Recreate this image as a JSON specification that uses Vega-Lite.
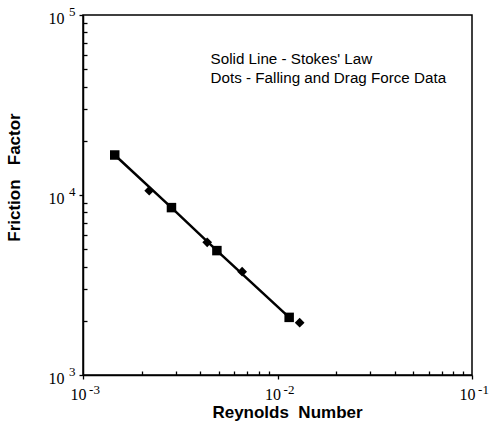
{
  "$schema": "https://vega.github.io/schema/vega-lite/v6.json",
  "width": 389,
  "height": 360,
  "autosize": {"type": "none"},
  "padding": {"left": 83, "top": 15, "right": 18, "bottom": 53},
  "background": "white",
  "config": {
    "view": {"stroke": "black", "strokeWidth": 1.5},
    "axis": {
      "domainColor": "black",
      "domainWidth": 1.5,
      "tickColor": "black",
      "tickWidth": 1.3,
      "grid": false,
      "labelFont": "Liberation Serif",
      "labelFontSize": 16,
      "labelColor": "black",
      "titleFont": "Liberation Sans",
      "titleFontWeight": "bold",
      "titleFontSize": 17,
      "titleColor": "black"
    }
  },
  "datasets": {
    "pts": [
      {"re": 0.001456, "f": 16680, "kind": "square"},
      {"re": 0.00219, "f": 10570, "kind": "diamond"},
      {"re": 0.00285, "f": 8510, "kind": "square"},
      {"re": 0.00435, "f": 5460, "kind": "diamond"},
      {"re": 0.00488, "f": 4910, "kind": "square"},
      {"re": 0.00658, "f": 3750, "kind": "diamond"},
      {"re": 0.01148, "f": 2090, "kind": "square"},
      {"re": 0.0130, "f": 1953, "kind": "diamond"}
    ],
    "notes": [
      {"re": 0.00453, "f": 53400, "txt": "Solid Line - Stokes' Law"},
      {"re": 0.00453, "f": 41900, "txt": "Dots - Falling and Drag Force Data"}
    ]
  },
  "resolve": {"axis": {"x": "independent", "y": "independent"}},
  "layer": [
    {
      "data": {"name": "pts"},
      "transform": [{"filter": "datum.kind == 'square'"}],
      "mark": {"type": "line", "color": "black", "strokeWidth": 2.5},
      "encoding": {
        "x": {
          "field": "re", "type": "quantitative",
          "scale": {"type": "log", "domain": [0.001, 0.1], "nice": false},
          "axis": {
            "orient": "bottom",
            "title": "Reynolds\u00a0\u00a0Number",
            "titleX": 204,
            "titleAlign": "center",
            "values": [0.001,0.002,0.003,0.004,0.005,0.006,0.007,0.008,0.009,0.01,0.02,0.03,0.04,0.05,0.06,0.07,0.08,0.09,0.1],
            "labelExpr": "abs(log(datum.value)/LN10 - round(log(datum.value)/LN10)) < 1e-6 ? '10' : ''",
            "tickSize": {"condition": {"test": "abs(log(datum.value)/LN10 - round(log(datum.value)/LN10)) < 1e-6", "value": 4}, "value": -4},
            "labelPadding": 7,
            "labelOffset": -5,
            "labelFlush": false,
            "titlePadding": 2
          }
        },
        "y": {
          "field": "f", "type": "quantitative",
          "scale": {"type": "log", "domain": [1000, 100000], "nice": false},
          "axis": {
            "orient": "left",
            "title": "Friction\u00a0\u00a0\u00a0Factor",
            "values": [1000,2000,3000,4000,5000,6000,7000,8000,9000,10000,20000,30000,40000,50000,60000,70000,80000,90000,100000],
            "labelExpr": "abs(log(datum.value)/LN10 - round(log(datum.value)/LN10)) < 1e-6 ? '10' : ''",
            "tickSize": {"condition": {"test": "abs(log(datum.value)/LN10 - round(log(datum.value)/LN10)) < 1e-6", "value": 4}, "value": -4},
            "labelPadding": 15,
            "labelOffset": 3,
            "labelBaseline": "middle",
            "labelFlush": false,
            "titleX": -69,
            "titleY": 162,
            "titleAngle": -90,
            "titleAlign": "center",
            "titleBaseline": "middle"
          }
        }
      }
    },
    {
      "data": {"name": "pts"},
      "transform": [{"filter": "datum.kind == 'square'"}],
      "mark": {"type": "point", "shape": "square", "filled": true, "color": "black", "size": 90, "opacity": 1},
      "encoding": {
        "x": {
          "field": "re", "type": "quantitative",
          "axis": {
            "orient": "bottom",
            "title": null,
            "domain": false,
            "ticks": false,
            "values": [0.001, 0.01, 0.1],
            "labelExpr": "round(log(datum.value)/LN10) == -3 ? '-3' : round(log(datum.value)/LN10) == -2 ? '-2' : '-1'",
            "labelFontSize": 13,
            "labelPadding": 8,
            "labelOffset": 11,
            "labelFlush": false
          }
        },
        "y": {
          "field": "f", "type": "quantitative",
          "axis": {
            "orient": "left",
            "title": null,
            "domain": false,
            "ticks": false,
            "values": [1000, 10000, 100000],
            "labelExpr": "round(log(datum.value)/LN10) == 3 ? '3' : round(log(datum.value)/LN10) == 4 ? '4' : '5'",
            "labelFontSize": 13,
            "labelPadding": 8,
            "labelOffset": -4,
            "labelBaseline": "middle",
            "labelFlush": false
          }
        }
      }
    },
    {
      "data": {"name": "pts"},
      "transform": [{"filter": "datum.kind == 'diamond'"}],
      "mark": {"type": "point", "shape": "diamond", "filled": true, "color": "black", "size": 95, "opacity": 1},
      "encoding": {
        "x": {"field": "re", "type": "quantitative", "axis": null},
        "y": {"field": "f", "type": "quantitative", "axis": null}
      }
    },
    {
      "data": {"name": "notes"},
      "mark": {"type": "text", "align": "left", "baseline": "alphabetic", "font": "Liberation Sans", "fontSize": 15.2, "color": "black"},
      "encoding": {
        "x": {"field": "re", "type": "quantitative", "axis": null},
        "y": {"field": "f", "type": "quantitative", "axis": null},
        "text": {"field": "txt"}
      }
    }
  ]
}
